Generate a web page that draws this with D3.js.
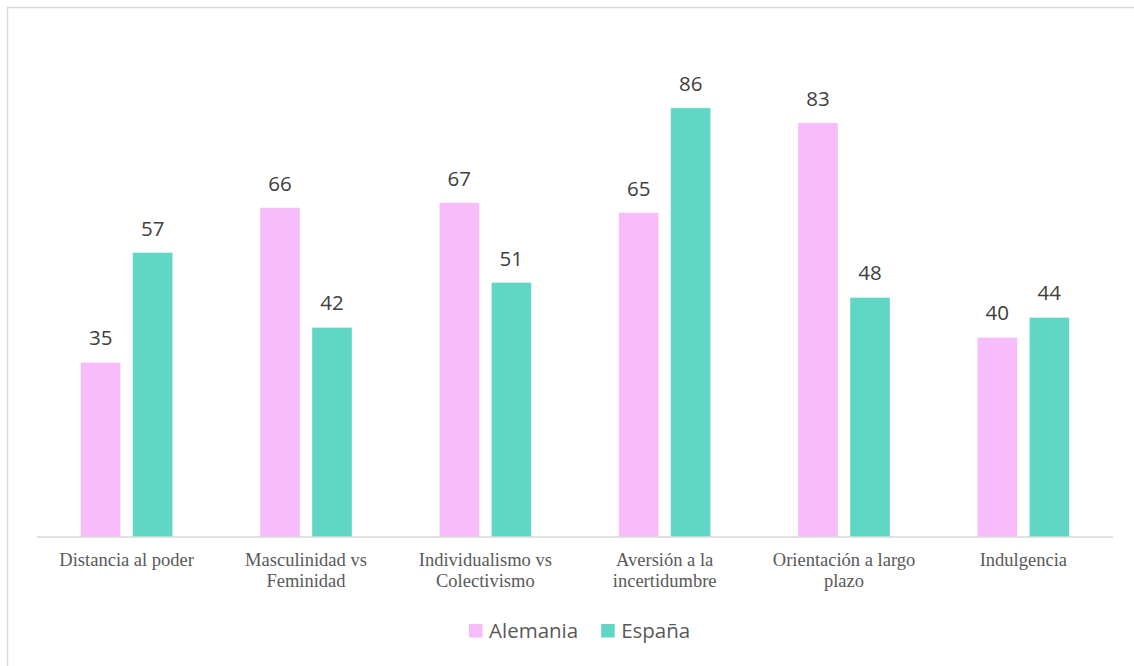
<!DOCTYPE html>
<html>
<head>
<meta charset="utf-8">
<script src="https://cdn.jsdelivr.net/npm/d3@7"></script>
<style>
  body { margin: 0; background: #fff; }
  svg { display: block; }
</style>
</head>
<body>
<svg id="chart" width="1134" height="666"></svg>
<script>
var categories = ["Distancia al poder", "Masculinidad vs Feminidad", "Individualismo vs Colectivismo",
                  "Aversión a la incertidumbre", "Orientación a largo plazo", "Indulgencia"];
var seriesNames = ["Alemania", "España"];
var alemania = [35, 66, 67, 65, 83, 40];
var espana = [57, 42, 51, 86, 48, 44];
var colors = ["#F7BCFA", "#60D6C4"];

var values = [alemania, espana];
var svg = d3.select('#chart');

// frame (only top & left visible in the picture)
svg.append('rect')
  .attr('x', 7.5).attr('y', 7.5)
  .attr('width', 1200).attr('height', 700)
  .style('fill', 'none')
  .style('stroke', '#d9d9d9')
  .style('stroke-width', 1.5);

var plotLeft = 37, plotRight = 1113, plotTop = 38, base = 537;

var x0 = d3.scaleBand()
  .domain(categories)
  .range([plotLeft, plotRight])
  .padding(0);

var x1 = d3.scaleBand()
  .domain(seriesNames)
  .range([x0.bandwidth() / 2 - 46, x0.bandwidth() / 2 + 46])
  .paddingInner(0.231)
  .paddingOuter(0);

var y = d3.scaleLinear()
  .domain([0, 100])
  .range([base, plotTop]);

var rows = [];
categories.forEach(function(c, i) {
  seriesNames.forEach(function(s, j) {
    rows.push({cat: c, series: s, value: values[j][i], color: colors[j]});
  });
});

var groups = svg.append('g').selectAll('g')
  .data(rows)
  .enter()
  .append('g');

groups.append('rect')
  .attr('x', d => x0(d.cat) + x1(d.series))
  .attr('y', d => y(d.value))
  .attr('width', x1.bandwidth())
  .attr('height', d => base - y(d.value))
  .style('fill', d => d.color)
  .style('stroke', '#fff')
  .style('stroke-opacity', 0.5)
  .style('stroke-width', 0.75);

groups.append('text')
  .attr('x', d => x0(d.cat) + x1(d.series) + x1.bandwidth() / 2)
  .attr('y', d => y(d.value) - 17)
  .attr('text-anchor', 'middle')
  .style('font-family', '"Open Sans", sans-serif')
  .style('font-size', '20.5px')
  .style('fill', '#404040')
  .text(d => d.value);

// axis line
var xAxis = svg.append('g')
  .attr('transform', 'translate(0,' + base + ')')
  .call(d3.axisBottom(x0).tickSize(0).tickPadding(0));
xAxis.select('.domain')
  .attr('d', 'M' + plotLeft + ',0H' + plotRight)
  .style('stroke', '#d9d9d9')
  .style('stroke-width', 1.5);

xAxis.selectAll('.tick text').remove();
xAxis.selectAll('.tick').append('text')
  .attr('text-anchor', 'middle')
  .style('font-family', '"Liberation Serif", "Times New Roman", serif')
  .style('font-size', '18.5px')
  .style('fill', '#595959')
  .each(function(d) {
    var t = d3.select(this);
    var words = d.split(' ');
    var lines = [], line = [];
    var probe = t.append('tspan');
    words.forEach(function(w) {
      line.push(w);
      probe.text(line.join(' '));
      if (probe.node().getComputedTextLength() > 160 && line.length > 1) {
        line.pop();
        lines.push(line.join(' '));
        line = [w];
      }
    });
    lines.push(line.join(' '));
    probe.remove();
    lines.forEach(function(l, i) {
      t.append('tspan').attr('x', 0).attr('y', 29 + i * 21).text(l);
    });
  });

// legend
var legend = svg.append('g');
var lx = 469;
seriesNames.forEach(function(s, i) {
  var g = legend.append('g').attr('transform', 'translate(' + lx + ',0)');
  g.append('rect')
    .attr('x', 0).attr('y', 624)
    .attr('width', 13.5).attr('height', 13.5)
    .style('fill', colors[i]);
  var t = g.append('text')
    .attr('x', 20).attr('y', 638)
    .style('font-family', '"Open Sans", sans-serif')
    .style('font-size', '20.5px')
    .style('fill', '#595959')
    .text(s);
  lx += 20 + t.node().getComputedTextLength() + 23;
});
</script>
</body>
</html>
